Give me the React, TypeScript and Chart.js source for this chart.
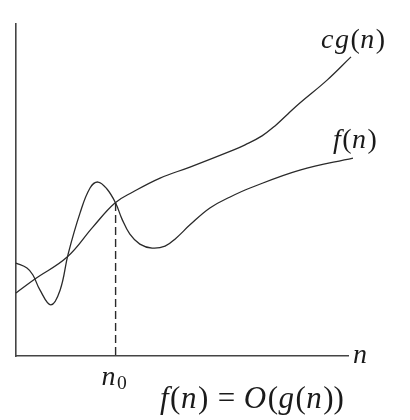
import React, { useEffect, useRef } from "react";
import { Chart, registerables } from "chart.js";
Chart.register(...registerables);

// cg(n) curve samples
const cgX = [0, 0.57, 1.54, 2.32, 2.98, 3.52, 4.34, 5.24, 6.54, 6.9, 7.41, 7.8, 8.19, 8.55, 9.37, 10.09];
const cgY = [1.9, 2.32, 2.98, 3.89, 4.61, 4.94, 5.36, 5.69, 6.2, 6.36, 6.63, 6.93, 7.29, 7.62, 8.31, 9.01];

// f(n) curve samples
const fX = [0, 0.33, 0.51, 0.72, 1.05, 1.33, 1.57, 1.93, 2.23, 2.47, 2.74, 3.0, 3.19, 3.43, 3.73, 4.1, 4.49, 4.82, 5.24, 5.84, 6.45, 7.05, 8.55, 10.15];
const fY = [2.8, 2.65, 2.44, 1.99, 1.54, 1.99, 3.07, 4.31, 5.06, 5.24, 5.03, 4.61, 4.13, 3.67, 3.37, 3.25, 3.31, 3.55, 3.95, 4.46, 4.79, 5.06, 5.6, 5.96];

// threshold n0
const n0X = [3.0, 3.0];
const n0Y = [4.61, 0];

const axisRange = [0, 10];

const FONT = '"Liberation Serif", "Times New Roman", serif';
const INK = "#1a1a1a";

type Run = [string, boolean, number?, number?];

function drawRuns(ctx: CanvasRenderingContext2D, x: number, y: number, runs: Run[], size: number) {
  let cx = x;
  for (const [t, italic, dy, gap] of runs) {
    const s = dy ? size * 0.7 : size;
    ctx.font = `${italic ? "italic " : ""}${s}px ${FONT}`;
    ctx.fillText(t, cx, y + (dy || 0));
    cx += ctx.measureText(t).width + (italic ? 1.5 : 0.5) + (gap || 0);
  }
}

const labelPlugin = {
  id: "mathLabels",
  afterDraw(chart: any) {
    const ctx: CanvasRenderingContext2D = chart.ctx;
    const xs = chart.scales.x;
    const ys = chart.scales.y;
    ctx.save();
    ctx.fillStyle = INK;
    ctx.textBaseline = "alphabetic";
    const size = 28;
    // cg(n) label near end of cg
    const cgEndX = xs.getPixelForValue(cgX[cgX.length - 1]);
    const cgEndY = ys.getPixelForValue(cgY[cgY.length - 1]);
    drawRuns(ctx, cgEndX - 30, cgEndY - 9, [["c", true], ["g", true], ["(", false], ["n", true], [")", false]], size);
    // f(n) label
    const fEndX = xs.getPixelForValue(fX[fX.length - 1]);
    const fEndY = ys.getPixelForValue(fY[fY.length - 1]);
    drawRuns(ctx, fEndX - 20, fEndY - 10, [["f", true], ["(", false], ["n", true], [")", false]], size);
    // axis label n
    const ax = xs.getPixelForValue(axisRange[1]);
    const ay = ys.getPixelForValue(0);
    drawRuns(ctx, ax + 5, ay + 7, [["n", true]], size);
    // n0 label
    const nx = xs.getPixelForValue(n0X[0]);
    drawRuns(ctx, nx - 14, ay + 29, [["n", true], ["0", false, 4]], size);
    // caption
    drawRuns(
      ctx,
      160,
      ay + 52,
      [["f", true], ["(", false], ["n", true], [")", false, 0, 9], ["=", false, 0, 8], ["O", true], ["(", false], ["g", true], ["(", false], ["n", true], ["))", false]],
      31
    );
    ctx.restore();
  },
};

export default function App() {
  const ref = useRef<HTMLCanvasElement>(null);
  useEffect(() => {
    document.body.style.margin = "0";
    const canvas = ref.current!;
    const toPts = (xs: number[], ys: number[]) => xs.map((x, i) => ({ x, y: ys[i] }));
    const chart = new Chart(canvas, {
      type: "scatter",
      data: {
        datasets: [
          {
            label: "cg(n)",
            data: toPts(cgX, cgY),
            showLine: true,
            borderColor: "#2a2a2a",
            borderWidth: 1.3,
            pointRadius: 0,
            tension: 0.4,
            clip: false as any,
          },
          {
            label: "f(n)",
            data: toPts(fX, fY),
            showLine: true,
            borderColor: "#2a2a2a",
            borderWidth: 1.3,
            pointRadius: 0,
            tension: 0.4,
            clip: false as any,
          },
          {
            label: "n0",
            data: toPts(n0X, n0Y),
            showLine: true,
            borderColor: "#2a2a2a",
            borderWidth: 1.4,
            borderDash: [8, 4],
            pointRadius: 0,
          },
        ],
      },
      options: {
        responsive: false,
        animation: false,
        layout: { padding: { left: 16, right: 62, top: 24, bottom: 64 } },
        plugins: { legend: { display: false }, tooltip: { enabled: false }, title: { display: false } },
        scales: {
          x: {
            type: "linear",
            min: axisRange[0],
            max: axisRange[1],
            ticks: { display: false },
            grid: { display: false, drawTicks: false },
            border: { display: true, color: "#444", width: 1.6 },
          },
          y: {
            type: "linear",
            min: axisRange[0],
            max: axisRange[1],
            ticks: { display: false },
            grid: { display: false, drawTicks: false },
            border: { display: true, color: "#444", width: 1.6 },
          },
        },
      },
      plugins: [labelPlugin],
    });
    return () => chart.destroy();
  }, []);
  return (
    <div style={{ position: "absolute", left: 0, top: 0 }}>
      <canvas ref={ref} width={410} height={420} style={{ display: "block" }} />
    </div>
  );
}
